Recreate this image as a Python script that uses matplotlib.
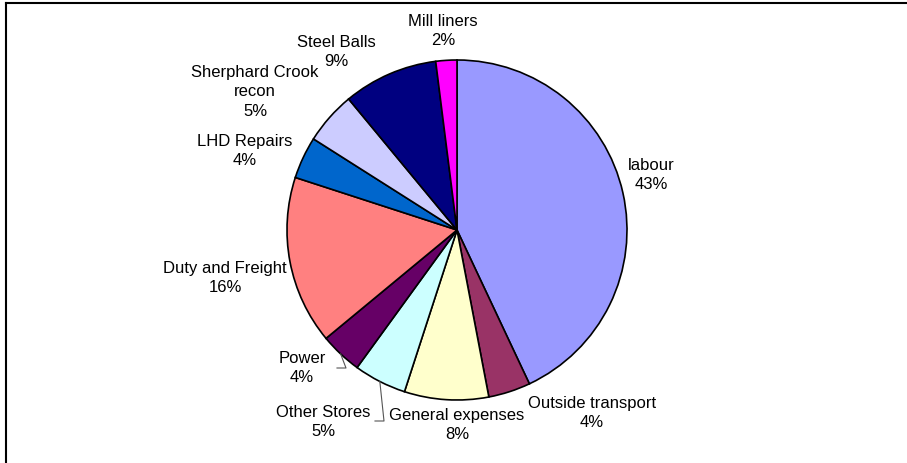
import numpy as np
import matplotlib.pyplot as plt

plt.rcParams['font.family'] = ['Liberation Sans', 'DejaVu Sans']

# cost breakdown, clockwise from 12 o'clock
categories = ['labour', 'Outside transport', 'General expenses', 'Other Stores', 'Power',
              'Duty and Freight', 'LHD Repairs', 'Sherphard Crook\nrecon', 'Steel Balls', 'Mill liners']
shares = [43, 4, 8, 5, 4, 16, 4, 5, 9, 2]
colors = ['#9999FF', '#993366', '#FFFFCC', '#CCFFFF', '#660066',
          '#FF8080', '#0066CC', '#CCCCFF', '#000080', '#FF00FF']

# label centres in pixel coordinates (x right, y down)
label_pos = [(651, 175), (592, 413), (457, 425), (323, 422), (302, 368),
             (225, 278), (245, 151), (255, 92), (336, 52), (443, 31)]

W, H = 907, 463
cx, cy, r = 457, H - 230, 170

fig = plt.figure(figsize=(W / 100, H / 100), dpi=100)
ax = fig.add_axes([0, 0, 1, 1])

wedges, _ = ax.pie(shares, colors=colors, startangle=90, counterclock=False,
                   center=(cx, cy), radius=r, frame=True,
                   wedgeprops=dict(edgecolor='black', linewidth=1.2))
ax.set_xlim(0, W)
ax.set_ylim(0, H)
ax.set_aspect('equal')
ax.axis('off')

for name, v, (lx, ly) in zip(categories, shares, label_pos):
    ax.text(lx, H - ly, f'{name}\n{v:.0f}%', ha='center', va='center',
            fontsize=12, linespacing=1.35, color='black')

# leader lines for the two small bottom-left slices
def edge_point(w):
    ang = np.deg2rad((w.theta1 + w.theta2) / 2)
    return cx + r * np.cos(ang), cy + r * np.sin(ang)

ex, ey = edge_point(wedges[4])
ax.plot([337, 346, ex], [H - 368, H - 368, ey], color='#555555', lw=0.8)
ex, ey = edge_point(wedges[3])
ax.plot([375, 384, ex], [H - 421, H - 421, ey], color='#555555', lw=0.8)

# partial frame (left and top)
ax.plot([6, 6], [0, H - 3], color='black', lw=1.5, clip_on=False)
ax.plot([6, 906], [H - 3, H - 3], color='black', lw=1.5, clip_on=False)

fig.savefig('out.png', dpi=100)
